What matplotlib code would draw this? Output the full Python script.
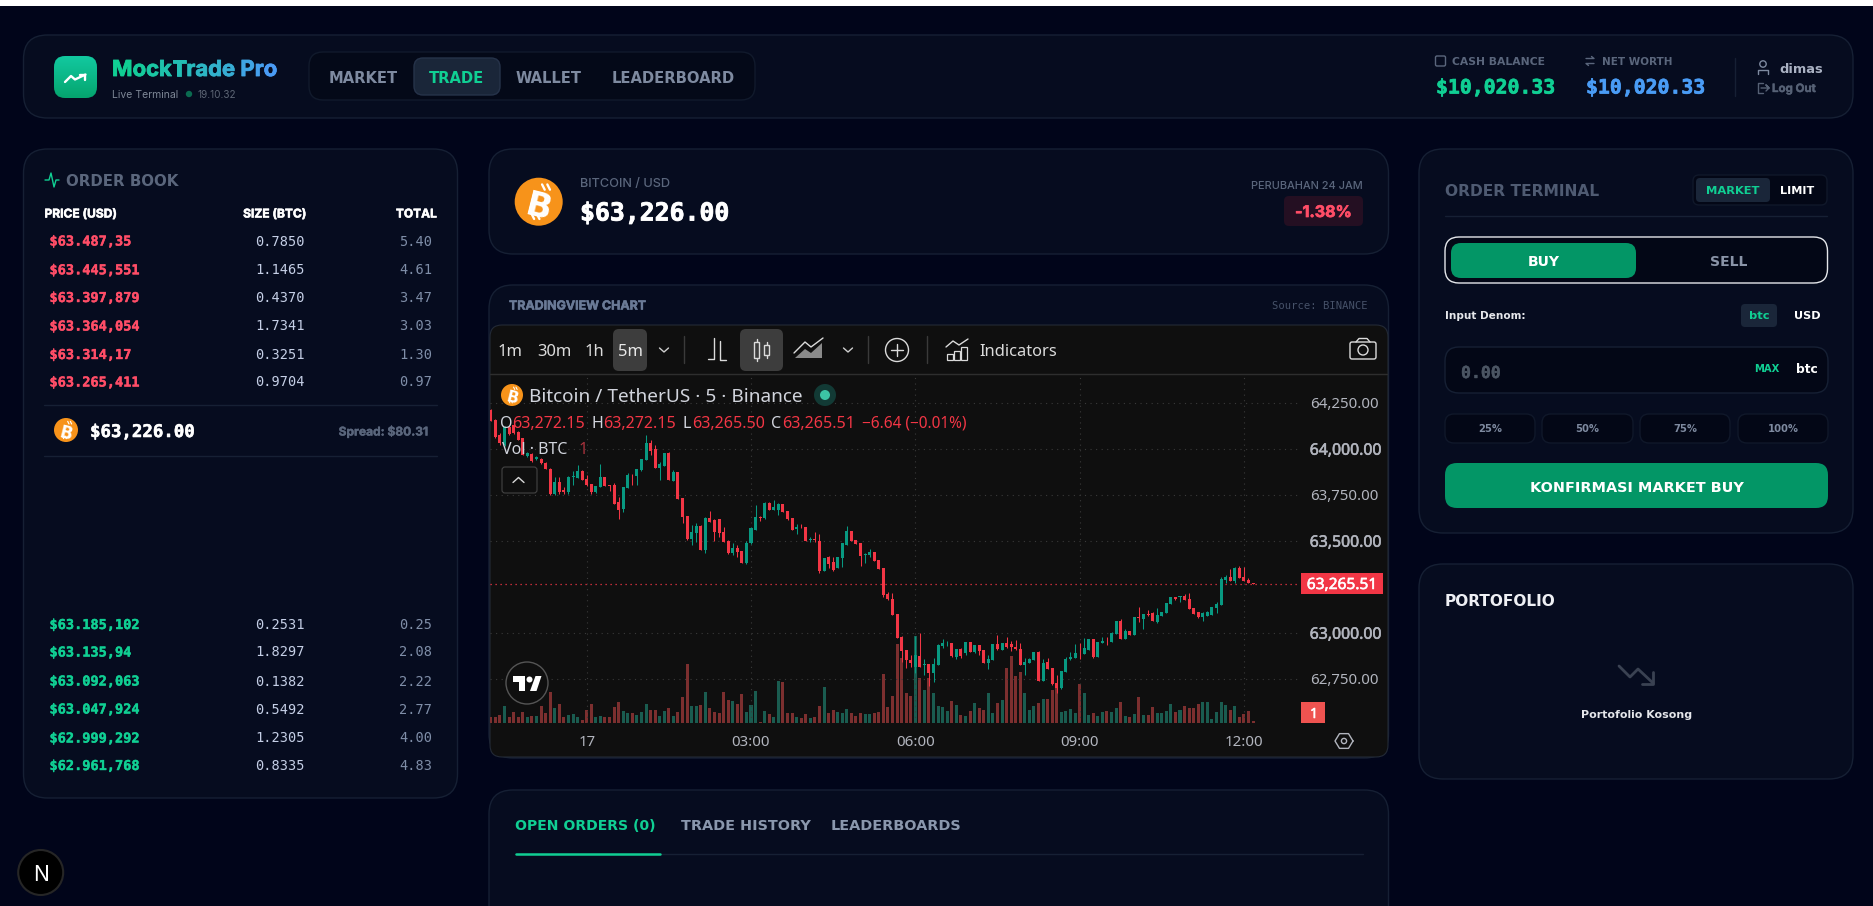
import numpy as np
import matplotlib
matplotlib.use('Agg')
import matplotlib.pyplot as plt
import matplotlib.patheffects as pe
from matplotlib.patches import FancyBboxPatch, Circle, Polygon, Rectangle

W, H = 1873, 906

# candles, oldest first
opens = [64210, 64156, 64074, 64020, 64120, 64129, 64092, 64056, 63960, 63971, 63942, 63942, 63924, 63891, 63754, 63817, 63775, 63763, 63844, 63842,
         63879, 63833, 63808, 63764, 63793, 63844, 63803, 63803, 63708, 63670, 63788, 63859, 63853, 63882, 63938, 64031, 63996, 63897, 63908, 63978,
         63826, 63871, 63730, 63634, 63507, 63540, 63580, 63449, 63623, 63612, 63616, 63547, 63500, 63435, 63460, 63442, 63378, 63485, 63558, 63630,
         63621, 63705, 63667, 63667, 63697, 63659, 63621, 63562, 63576, 63572, 63504, 63507, 63500, 63337, 63409, 63386, 63351, 63406, 63478, 63551,
         63504, 63486, 63424, 63424, 63438, 63395, 63350, 63210, 63185, 63101, 62978, 62906, 62851, 62815, 62873, 62822, 62830, 62783, 62824, 62928,
         62942, 62944, 62870, 62913, 62891, 62947, 62893, 62931, 62906, 62837, 62853, 62937, 62906, 62946, 62938, 62924, 62909, 62824, 62837, 62851,
         62897, 62737, 62841, 62806, 62725, 62697, 62786, 62855, 62862, 62891, 62886, 62906, 62964, 62870, 62946, 62957, 62949, 62993, 63063, 62966,
         63009, 62987, 63083, 63074, 63101, 63109, 63058, 63091, 63109, 63156, 63192, 63192, 63199, 63181, 63134, 63111, 63087, 63091, 63096, 63136,
         63150, 63284, 63303, 63281, 63353, 63303, 63284, 63272.15]
closes = [64152, 64065, 64029, 64120, 64080, 64083, 64047, 63966, 63975, 63931, 63953, 63920, 63891, 63754, 63817, 63766, 63766, 63848, 63853, 63879,
          63832, 63803, 63764, 63799, 63844, 63799, 63800, 63699, 63667, 63790, 63859, 63857, 63888, 63942, 64031, 63989, 63895, 63918, 63975, 63830,
          63871, 63728, 63630, 63507, 63547, 63580, 63449, 63623, 63603, 63547, 63543, 63495, 63433, 63460, 63438, 63380, 63489, 63569, 63630, 63625,
          63705, 63667, 63681, 63699, 63656, 63616, 63558, 63576, 63572, 63500, 63509, 63504, 63335, 63404, 63371, 63341, 63409, 63486, 63553, 63500,
          63482, 63417, 63428, 63438, 63391, 63348, 63203, 63181, 63098, 62973, 62902, 62851, 62837, 62879, 62815, 62830, 62783, 62830, 62933, 62946,
          62946, 62873, 62911, 62875, 62947, 62895, 62933, 62902, 62837, 62855, 62937, 62909, 62942, 62920, 62920, 62909, 62824, 62842, 62859, 62895,
          62737, 62837, 62803, 62719, 62697, 62790, 62857, 62868, 62891, 62888, 62915, 62964, 62866, 62947, 62953, 62953, 63000, 63063, 62966, 63007,
          62987, 63083, 63080, 63100, 63096, 63065, 63098, 63111, 63159, 63192, 63181, 63197, 63178, 63130, 63101, 63083, 63109, 63114, 63138, 63154,
          63290, 63303, 63283, 63350, 63299, 63281, 63272, 63265.51]
highs = [64215, 64160, 64085, 64125, 64125, 64135, 64095, 64058, 63984, 63975, 63958, 63949, 63926, 63893, 63848, 63848, 63793, 63850, 63880, 63911,
         63882, 63857, 63810, 63800, 63917, 63846, 63805, 63812, 63739, 63792, 63866, 63861, 63890, 63945, 64072, 64047, 64020, 63929, 63978, 63980,
         63884, 63873, 63732, 63636, 63587, 63594, 63583, 63630, 63659, 63620, 63618, 63576, 63502, 63489, 63478, 63444, 63500, 63572, 63694, 63632,
         63708, 63708, 63721, 63707, 63700, 63661, 63623, 63591, 63591, 63574, 63518, 63547, 63536, 63406, 63417, 63409, 63411, 63488, 63580, 63553,
         63506, 63488, 63435, 63453, 63440, 63397, 63352, 63223, 63214, 63103, 62980, 62908, 62879, 62982, 62996, 62855, 62832, 62861, 62936, 62964,
         62957, 62946, 62913, 62915, 62949, 62949, 62935, 62933, 62908, 62877, 62939, 62987, 62946, 62978, 62957, 62960, 62942, 62861, 62862, 62897,
         62899, 62855, 62861, 62808, 62770, 62792, 62870, 62897, 62938, 62946, 62969, 62966, 62966, 62949, 62978, 62975, 63002, 63066, 63072, 63018,
         63011, 63085, 63138, 63102, 63123, 63114, 63132, 63113, 63161, 63195, 63194, 63199, 63210, 63214, 63136, 63113, 63114, 63117, 63140, 63167,
         63304, 63313, 63344, 63355, 63362, 63355, 63297, 63272.15]
lows = [64150, 64060, 64020, 64015, 64075, 64080, 64045, 63964, 63953, 63928, 63938, 63918, 63889, 63750, 63750, 63754, 63754, 63755, 63803, 63840,
        63830, 63800, 63755, 63760, 63790, 63797, 63772, 63697, 63618, 63658, 63786, 63803, 63803, 63880, 63936, 63966, 63893, 63830, 63905, 63828,
        63824, 63726, 63598, 63505, 63478, 63495, 63447, 63435, 63601, 63500, 63522, 63493, 63428, 63422, 63409, 63378, 63376, 63483, 63556, 63609,
        63619, 63665, 63665, 63639, 63654, 63614, 63556, 63536, 63570, 63498, 63495, 63495, 63326, 63335, 63350, 63337, 63349, 63359, 63476, 63498,
        63480, 63362, 63377, 63409, 63389, 63346, 63196, 63179, 63096, 62971, 62842, 62810, 62815, 62779, 62813, 62770, 62710, 62734, 62822, 62915,
        62928, 62866, 62855, 62861, 62880, 62893, 62891, 62879, 62835, 62803, 62851, 62907, 62904, 62918, 62902, 62907, 62822, 62770, 62835, 62849,
        62735, 62735, 62801, 62717, 62670, 62695, 62784, 62853, 62860, 62855, 62884, 62904, 62864, 62868, 62944, 62933, 62947, 62991, 62964, 62964,
        62985, 62985, 63060, 63018, 63091, 63063, 63051, 63089, 63107, 63154, 63179, 63168, 63176, 63128, 63099, 63081, 63063, 63089, 63094, 63105,
        63148, 63272, 63281, 63268, 63297, 63279, 63270, 63265.50]
volumes = [3.2, 3.2, 4.6, 10, 3.2, 6.2, 3.6, 6.4, 3.2, 4.2, 4.2, 10, 6, 18.6, 8.6, 11.2, 3.6, 4.6, 5.2, 3.6,
           1.6, 7.6, 11.2, 3.6, 4, 3.2, 3.6, 9.2, 12.2, 7, 6, 5.6, 4.6, 6.6, 11.2, 7.6, 7.6, 4.2, 7.2, 8.6,
           4.2, 6.6, 15.2, 35.2, 10, 10.2, 10.6, 18.2, 8.6, 6.6, 6, 18.2, 13.6, 13, 11.2, 17.2, 6.6, 10.6, 19, 0.6,
           7.2, 5.2, 3.2, 25, 24.2, 5.6, 5.6, 3.6, 2.6, 5.2, 2.6, 3.6, 10, 21.2, 5.6, 7.6, 6.6, 6, 8.2, 5.6,
           4, 5.6, 5, 5.2, 6, 6.4, 29.2, 9.6, 16, 47.2, 38.6, 17.6, 16, 52, 26.6, 19.6, 26.6, 17.6, 10, 9.6,
           7.2, 13, 10.6, 4.6, 4, 7.2, 11.6, 8.6, 7.6, 17.6, 6, 12, 13.6, 32.6, 40, 28, 30.4, 17.6, 7.6, 10,
           11.6, 14, 14.2, 19.6, 20.6, 6.6, 7.2, 8.2, 5.6, 23.2, 17.6, 4.6, 5.6, 4, 6.6, 7.2, 6.2, 8.6, 12.2, 4,
           3.6, 5.2, 15.2, 4.6, 4.6, 9.2, 6, 6, 7.2, 11.2, 6.6, 7.6, 10, 9, 9, 11, 12.2, 12.2, 2, 6.6,
           12.2, 10.6, 7.6, 10, 3.2, 5.2, 7.2, 1]
minutes = np.arange(-105, 735, 5)  # minutes from 00:00 on the 17th, 5m bars

price_ticks = [62750, 63000, 63500, 63750, 64000, 64250]
time_ticks = [0, 180, 360, 540, 720]
time_labels = ['17', '03:00', '06:00', '09:00', '12:00']
last_price = 63265.51

asks = [('$63.487,35', '0.7850', '5.40'), ('$63.445,551', '1.1465', '4.61'), ('$63.397,879', '0.4370', '3.47'),
        ('$63.364,054', '1.7341', '3.03'), ('$63.314,17', '0.3251', '1.30'), ('$63.265,411', '0.9704', '0.97')]
bids = [('$63.185,102', '0.2531', '0.25'), ('$63.135,94', '1.8297', '2.08'), ('$63.092,063', '0.1382', '2.22'),
        ('$63.047,924', '0.5492', '2.77'), ('$62.999,292', '1.2305', '4.00'), ('$62.961,768', '0.8335', '4.83')]
ask_rows = [240, 268.8, 296.5, 325, 353.5, 381]
bid_rows = [623.5, 651, 680, 708, 737, 764.5]

BG = '#01051a'
PANEL = '#060c1f'
EDGE = '#162034'
DARK = '#030716'
CHIP = '#1a2639'
GREEN = '#10cf93'
BLUE = '#4a9cf5'
BTN = '#039666'
RED = '#ff4d67'
MUTED = '#5a667c'
SANS = 'Inter'
WIDE = 'DejaVu Sans'
MONO = 'DejaVu Sans Mono'
TV = 'Noto Sans'
TV_RED = '#f23645'
TV_GREEN = '#089981'
TV_TEXT = '#d1d4dc'

fig = plt.figure(figsize=(W / 100, H / 100), dpi=100, facecolor=BG)


def box_axes(x0, y0, x1, y1, z):
    return fig.add_axes([x0 / W, 1 - y1 / H, (x1 - x0) / W, (y1 - y0) / H], zorder=z)


def canvas(z):
    a = fig.add_axes([0, 0, 1, 1], zorder=z)
    a.set_xlim(0, W)
    a.set_ylim(H, 0)
    a.axis('off')
    return a


back = canvas(0)
over = canvas(6)


def rbox(a, x0, y0, x1, y1, r, fc, ec='none', lw=1.0, z=1):
    a.add_patch(FancyBboxPatch((x0, y0), x1 - x0, y1 - y0, boxstyle=f'round,pad=0,rounding_size={r}',
                               fc=fc, ec=ec, lw=lw, zorder=z))


def txt(a, x, y, s, px, color, ha='left', weight='bold', family=WIDE, heavy=0.0, **kw):
    t = a.text(x, y, s, fontsize=px * 0.72, color=color, ha=ha, va='center_baseline',
               fontweight=weight, family=family, zorder=10, **kw)
    if heavy:
        t.set_path_effects([pe.withStroke(linewidth=heavy, foreground=color)])
    return t


def line(a, xs, ys, color, lw=1.0, **kw):
    a.plot(xs, ys, color=color, lw=lw, solid_capstyle='round', zorder=9, **kw)


def btc(a, x, y, r):
    # bitcoin sign: no installed font has it, so a tilted B with its two ticks
    a.add_patch(Circle((x, y), r, fc='#f7931a', ec='none', zorder=9))
    txt(a, x, y, 'B', r * 1.4, 'white', ha='center', rotation=-14)
    for dx in (-0.02, 0.2):
        line(a, [x + dx * r + 0.16 * r, x + dx * r + 0.27 * r], [y - 0.72 * r, y - 0.5 * r], 'white', r * 0.07)
        line(a, [x + dx * r - 0.28 * r, x + dx * r - 0.17 * r], [y + 0.5 * r, y + 0.72 * r], 'white', r * 0.07)


# page and panels
back.add_patch(Rectangle((0, 0), W, 6, fc='white', ec='none'))
panels = [(23.5, 35, 1853, 118, 24), (23.5, 149, 457.5, 798, 24), (489, 149, 1388.5, 254, 24),
          (489, 285, 1388.5, 758, 24), (489, 790, 1388.5, 940, 24), (1419, 149, 1853, 533, 24), (1419, 564, 1853, 779, 24)]
for x0, y0, x1, y1, r in panels:
    rbox(back, x0, y0, x1, y1, r, PANEL, EDGE)

# header
logo = back.imshow(np.linspace(0, 1, 64).reshape(-1, 1), cmap=matplotlib.colors.LinearSegmentedColormap.from_list('lg', ['#12c9a0', '#05a56e']),
                   extent=(54, 97, 98, 56), aspect='auto', zorder=2)
logo.set_clip_path(FancyBboxPatch((54, 56), 43, 42, boxstyle='round,pad=0,rounding_size=11', transform=back.transData))
back.set_xlim(0, W)
back.set_ylim(H, 0)
line(back, [65, 71, 75, 85.5], [82, 76, 79.5, 74.5], 'white', 1.7)
line(back, [80, 85.5, 85.5], [74.5, 74.5, 79.5], 'white', 1.7)

renderer = fig.canvas.get_renderer()
title = 'MockTrade Pro'
c0, c1 = np.array(matplotlib.colors.to_rgb(GREEN)), np.array(matplotlib.colors.to_rgb(BLUE))
for i, ch in enumerate(title):
    probe = txt(back, 0, 0, title[:i], 22, 'none', family=SANS) if i else None
    off = probe.get_window_extent(renderer).width if i else 0
    if probe:
        probe.remove()
    txt(back, 112 + off, 68, ch, 22, tuple(c0 + (c1 - c0) * i / (len(title) - 1)), family=SANS, heavy=0.6)
txt(back, 112, 94, 'Live Terminal', 10.5, '#7d8796', weight='normal', family=SANS)
back.add_patch(Circle((189, 94), 3.2, fc='#0b6b50', ec='none', zorder=9))
txt(back, 198, 94, '19.10.32', 10, '#5d6675', weight='normal', family=SANS)

rbox(back, 309, 52, 755, 100, 14, '#040918', '#111a2c')
rbox(back, 414, 58, 500, 95, 9, CHIP, '#26334a')
for x, s, c in [(363.5, 'MARKET', '#7e8aa0'), (457, 'TRADE', GREEN), (549, 'WALLET', '#7e8aa0'), (673.5, 'LEADERBOARD', '#7e8aa0')]:
    txt(back, x, 77, s, 14.7, c, ha='center')

rbox(back, 1435.5, 56, 1445.5, 66, 1.5, 'none', MUTED, 1.0, z=9)
txt(back, 1452, 61, 'CASH BALANCE', 10.8, MUTED)
txt(back, 1436, 86, '$10,020.33', 19.8, GREEN, family=MONO, heavy=0.5)
line(back, [1586, 1594, 1591.5], [58.5, 58.5, 56.5], MUTED, 1.0)
line(back, [1594, 1586, 1588.5], [63.5, 63.5, 65.5], MUTED, 1.0)
txt(back, 1602, 61, 'NET WORTH', 10.4, MUTED)
txt(back, 1586, 86, '$10,020.33', 19.8, BLUE, family=MONO, heavy=0.5)
line(back, [1735, 1735], [58, 96], EDGE, 1.0)
back.add_patch(Circle((1763, 64), 3.2, fc='none', ec='#7e8aa0', lw=1, zorder=9))
line(back, [1758, 1758, 1768, 1768], [73.5, 70, 70, 73.5], '#7e8aa0', 1.0)
txt(back, 1779, 68, 'dimas', 13, '#aab2c3')
line(back, [1763, 1758, 1758, 1763], [83, 83, 93, 93], '#566175', 1.0)
line(back, [1761, 1769, 1766, 1769, 1766], [88, 88, 85, 88, 91], '#566175', 1.0)
txt(back, 1772, 88, 'Log Out', 11.5, '#566175', family=SANS, heavy=0.3)

# order book
line(back, [45, 49, 51, 54, 56, 59], [180, 180, 173, 187, 180, 180], GREEN, 1.0)
txt(back, 66, 180, 'ORDER BOOK', 15, MUTED)
txt(back, 44.5, 213, 'PRICE (USD)', 12, 'white', family=SANS, heavy=0.4)
txt(back, 306, 213, 'SIZE (BTC)', 12, 'white', ha='right', family=SANS, heavy=0.4)
txt(back, 437, 213, 'TOTAL', 12, 'white', ha='right', family=SANS, heavy=0.4)
for rows, ys, col in [(asks, ask_rows, RED), (bids, bid_rows, GREEN)]:
    for (p, s, t), y in zip(rows, ys):
        txt(back, 49.5, y, p, 13.6, col, family=MONO, heavy=0.3)
        txt(back, 304.6, y, s, 13.6, '#c5cfe6', ha='right', family=MONO, weight='normal')
        txt(back, 432, y, t, 13.6, '#7f8ea8', ha='right', family=MONO, weight='normal')
line(back, [44, 437], [405, 405], EDGE)
line(back, [44, 437], [456, 456], EDGE)
btc(back, 66, 430, 12)
txt(back, 90, 430, '$63,226.00', 17.4, 'white', family=MONO, heavy=0.4)
txt(back, 427.5, 430, 'Spread: $80.31', 12, MUTED, ha='right', family=SANS, heavy=0.3)

# ticker
btc(back, 538.7, 201.7, 24)
txt(back, 580, 183, 'BITCOIN / USD', 12.7, MUTED, weight='medium', family=SANS)
txt(back, 580, 211, '$63,226.00', 24.8, 'white', family=MONO, heavy=0.6)
txt(back, 1362.6, 185, 'PERUBAHAN 24 JAM', 11, MUTED, ha='right', weight='medium', family=SANS)
rbox(back, 1284, 196, 1363, 226, 5, '#240f22')
txt(back, 1323.5, 211, '-1.38%', 16, RED, ha='center', family=SANS, heavy=0.5)

# chart card and TradingView widget frame
txt(back, 509, 305, 'TRADINGVIEW CHART', 12.4, '#6a7a96', family=SANS, heavy=0.4)
txt(back, 1368, 305, 'Source: BINANCE', 10.5, '#465269', ha='right', family=MONO, weight='normal')
rbox(back, 490, 325, 1388, 757, 12, '#0f0f0f', '#232a36', 0.8, z=2)
line(back, [490, 1387], [374.3, 374.3], '#2e2e2e')

# candles and volume, on real price and time scales
x0, x1 = 490.0, 1300.0
y0, y1 = 375.0, 722.7
px_per_min = 164.3 / 180
px_per_usd = 46 / 250
vax = box_axes(x0, y0, x1, y1, 2)
vax.patch.set_alpha(0)
vax.axis('off')
vax.set_xlim((x0 - 586.7) / px_per_min, (x1 - 586.7) / px_per_min)
vax.set_ylim(0, (y1 - y0) / 1.667)
ax = box_axes(x0, y0, x1, y1, 3)
ax.patch.set_alpha(0)
ax.set_xlim(vax.get_xlim())
ax.set_ylim(63000 - (y1 - 632.7) / px_per_usd, 63000 + (632.7 - y0) / px_per_usd)

o = np.array(opens)
c = np.array(closes)
up = c >= o
vax.bar(minutes, volumes, width=3.3, color=np.where(up, '#1a5c50', '#7c2f2f'), lw=0)
cols = np.where(up, TV_GREEN, TV_RED)
ax.vlines(minutes, lows, highs, colors=cols, lw=0.75, zorder=3)
ax.bar(minutes, np.abs(c - o), bottom=np.minimum(o, c), width=3.3, color=cols, lw=0, zorder=4)
ax.axhline(last_price, color=TV_RED, lw=0.9, ls=(0, (1, 3)), zorder=2)

ax.set_xticks(time_ticks, time_labels)
ax.set_yticks(price_ticks, [f'{p:,.2f}' for p in price_ticks])
ax.yaxis.tick_right()
ax.tick_params(length=0, labelcolor='#b2b5be', labelsize=15 * 0.72, pad=7)
ax.tick_params(axis='x', pad=9)
for lab in ax.get_xticklabels() + ax.get_yticklabels():
    lab.set_family(TV)
for lab, p in zip(ax.get_yticklabels(), price_ticks):
    if p in (63000, 63500, 64000):
        lab.set_fontsize(15.8 * 0.72)
        lab.set_path_effects([pe.withStroke(linewidth=0.4, foreground='#b2b5be')])
ax.grid(True, color='#3a3a3a', lw=0.8, ls=(0, (1, 4)))
ax.set_axisbelow(True)
for s in ax.spines.values():
    s.set_visible(False)

# toolbar
for x, s in [(498, '1m'), (537, '30m'), (585, '1h')]:
    txt(over, x, 350, s, 16.5, '#dbdbdb', family=TV, weight='normal')
rbox(over, 613, 329, 647, 371, 6, '#3d3d3d', z=5)
rbox(over, 740, 329, 783, 371, 6, '#3d3d3d', z=5)
txt(over, 618, 350, '5m', 16.5, '#e8e8e8', family=TV, weight='normal')
for x in (664, 848):
    line(over, [x - 4.5, x, x + 4.5], [348, 352, 348], '#cfcfcf', 1.0)
for x in (684, 868, 927):
    line(over, [x, x], [336, 363], '#3a3a3a', 1.0)
line(over, [714, 714, 708], [338, 359, 359], '#dbdbdb', 1.0)
line(over, [720, 720, 726], [341, 360, 360], '#dbdbdb', 1.0)
for cx, y_a, y_b in [(757, 342, 358), (767, 345, 355)]:
    line(over, [cx, cx], [y_a - 3, y_b + 3], '#dbdbdb', 1.0)
    over.add_patch(Rectangle((cx - 2.5, y_a), 5, y_b - y_a, fc='#3d3d3d', ec='#dbdbdb', lw=1, zorder=9))
over.add_patch(Polygon([(795, 358), (805, 349), (811, 353), (822, 343), (822, 358)], fc='#8a8a8a', ec='none', hatch='.....', zorder=8))
line(over, [794, 805, 811, 823], [353, 342, 347, 338], '#dbdbdb', 1.0)
over.add_patch(Circle((897, 350), 11.5, fc='none', ec='#dbdbdb', lw=1, zorder=9))
line(over, [891, 903], [350, 350], '#dbdbdb', 1.0)
line(over, [897, 897], [344, 356], '#dbdbdb', 1.0)
line(over, [946, 953, 959, 968], [347, 341, 345, 339], '#dbdbdb', 1.0)
for bx, by in [(947, 354), (954, 351), (961, 347)]:
    over.add_patch(Rectangle((bx, by), 6, 360 - by, fc='none', ec='#dbdbdb', lw=0.9, zorder=9))
txt(over, 979, 350, 'Indicators', 16.5, '#dbdbdb', family=TV, weight='normal')
rbox(over, 1350, 342, 1376, 359, 2, 'none', '#dbdbdb', 1.0, z=9)
line(over, [1356, 1359, 1367, 1370], [342, 338.5, 338.5, 342], '#dbdbdb', 1.0)
over.add_patch(Circle((1363, 350), 5, fc='none', ec='#dbdbdb', lw=1, zorder=9))

# legend on the chart
btc(over, 512, 395, 11)
txt(over, 529, 395.5, 'Bitcoin / TetherUS · 5 · Binance', 19, TV_TEXT, family=TV, weight='normal')
over.add_patch(Circle((825, 395), 11, fc='#123a35', ec='none', zorder=8))
over.add_patch(Circle((825, 395), 5, fc='#3cc4a4', ec='none', zorder=9))
for x, s, col in [(500, 'O', TV_TEXT), (512, '63,272.15', TV_RED), (592, 'H', TV_TEXT), (603, '63,272.15', TV_RED),
                  (683, 'L', TV_TEXT), (692, '63,265.50', TV_RED), (771, 'C', TV_TEXT), (782, '63,265.51', TV_RED)]:
    txt(over, x, 421.7, s, 16, col, family=TV, weight='normal')
txt(over, 862, 421.7, '−6.64 (−0.01%)', 15.4, TV_RED, family=TV, weight='normal')
txt(over, 502, 448, 'Vol · BTC', 16, TV_TEXT, family=TV, weight='normal')
txt(over, 579, 448, '1', 16, '#a8323c', family=TV, weight='normal')
rbox(over, 502, 467, 537, 493, 3, '#0f0f0f', '#444444', 0.8, z=7)
line(over, [513, 518.5, 524], [482.5, 477.5, 482.5], '#d8d8d8', 1.0)

# TradingView badge
over.add_patch(Circle((527, 683), 21, fc='#0f0f0f', ec='#555555', lw=1, zorder=7))
over.add_patch(Polygon([(513.5, 676), (525, 676), (525, 691), (519, 691), (519, 682), (513.5, 682)], fc='white', ec='none', zorder=8))
over.add_patch(Circle((529.5, 679.5), 3, fc='white', ec='none', zorder=8))
over.add_patch(Polygon([(530, 691), (535.5, 676), (541.5, 676), (536.5, 691)], fc='white', ec='none', zorder=8))

# price scale labels
over.add_patch(Rectangle((1301, 573), 82, 21, fc=TV_RED, ec='none', zorder=8))
txt(over, 1342, 583, f'{last_price:,.2f}', 15.5, 'white', ha='center', family=TV, weight='normal', heavy=0.4)
over.add_patch(Rectangle((1301, 702), 24, 21, fc='#ef5350', ec='none', zorder=8))
txt(over, 1314, 712.5, '1', 14, 'white', ha='center', family=TV, weight='normal', heavy=0.4)
hex_a = np.deg2rad(np.arange(0, 420, 60))
line(over, 1344 + 9 * np.cos(hex_a), 741 + 8.5 * np.sin(hex_a), '#b2b5be', 1.0)
over.add_patch(Circle((1344, 741), 2.6, fc='none', ec='#b2b5be', lw=1, zorder=9))

# tabs under the chart
txt(back, 515, 825, 'OPEN ORDERS (0)', 14, GREEN)
txt(back, 681, 825, 'TRADE HISTORY', 14.4, '#8a97ad')
txt(back, 831, 825, 'LEADERBOARDS', 14.4, '#8a97ad')
line(back, [515, 1363], [853.5, 853.5], EDGE)
line(back, [516, 660], [853.5, 853.5], GREEN, 1.8)

# order terminal
txt(back, 1445, 190, 'ORDER TERMINAL', 15.5, '#4f5b72')
rbox(back, 1693, 175, 1827, 205, 6, DARK, '#10182a')
rbox(back, 1696, 178, 1770, 202, 4, CHIP)
txt(back, 1733, 190, 'MARKET', 11.5, GREEN, ha='center')
txt(back, 1797, 190, 'LIMIT', 11.2, 'white', ha='center')
line(back, [1445, 1827], [216, 216], EDGE)
rbox(back, 1445, 237, 1827.5, 283, 14, DARK, '#e5e7eb', 1.0)
rbox(back, 1451, 243, 1636, 278, 10, BTN)
txt(back, 1543.5, 260, 'BUY', 14, 'white', ha='center')
txt(back, 1729, 260, 'SELL', 14, '#8a94a8', ha='center')
txt(back, 1445, 315, 'Input Denom:', 10.5, '#e5e7eb')
rbox(back, 1741, 304, 1777, 327, 4, CHIP)
txt(back, 1759, 315, 'btc', 11.5, GREEN, ha='center')
txt(back, 1807, 315, 'USD', 11.2, 'white', ha='center')
rbox(back, 1445, 347, 1828, 393, 14, DARK, EDGE)
txt(back, 1461, 371, '0.00', 16.5, '#4b5563', family=MONO, heavy=0.3)
txt(back, 1767, 368, 'MAX', 10, GREEN, ha='center')
txt(back, 1807, 368, 'btc', 12.3, 'white', ha='center')
for (a, b), s in zip([(1445, 1535), (1542, 1633), (1640, 1730), (1738, 1828)], ['25%', '50%', '75%', '100%']):
    rbox(back, a, 414, b, 443, 9, DARK, '#10182a')
    txt(back, (a + b) / 2, 428.5, s, 10, '#7e8aa0', ha='center')
rbox(back, 1445, 463, 1828, 508, 12, BTN)
txt(back, 1636.5, 486, 'KONFIRMASI MARKET BUY', 14.4, 'white', ha='center')

# portfolio
txt(back, 1445, 600, 'PORTOFOLIO', 15.4, '#eef0f4')
line(back, [1619, 1630, 1638, 1653], [666, 677, 669, 683], '#3a4252', 2.0)
line(back, [1642, 1653, 1653], [683.5, 683.5, 672], '#3a4252', 2.0)
txt(back, 1636.7, 714, 'Portofolio Kosong', 11, '#e5e7eb', ha='center')

# next.js badge
back.add_patch(Circle((40.7, 872.5), 22.5, fc='#000000', ec='#262626', lw=1.5, zorder=3))
txt(back, 40.7, 873, 'N', 21, 'white', ha='center', weight='normal', family=SANS)

plt.savefig('out.png', dpi=100, facecolor=BG)
